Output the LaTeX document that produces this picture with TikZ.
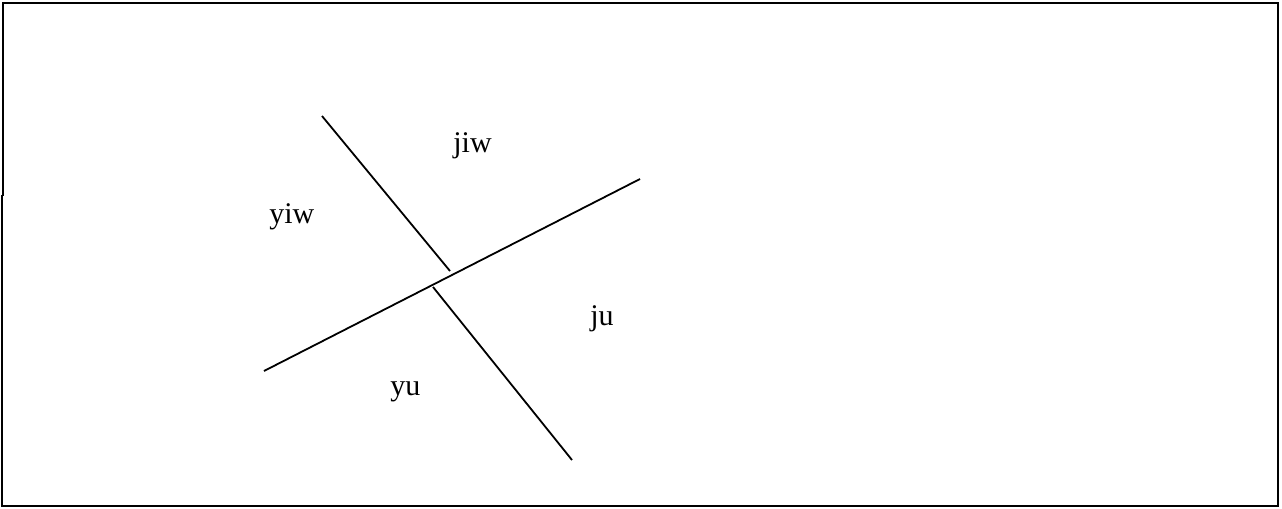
\documentclass[tikz,border=0pt]{standalone}
\usepackage{fontspec}
\setmainfont{Liberation Serif}

\begin{document}
\begin{tikzpicture}[
    x=0.5pt, y=-0.5pt,
    regiontext/.style={anchor=base west, inner sep=0pt, font=\fontsize{15}{18}\selectfont},
    axisline/.style={line width=0.9pt, black},
    framebox/.style={line width=1pt, black}
]
    \useasboundingbox (0,0) rectangle (1282,509);

    % --- KHUNG NGOAI ---
    \draw[framebox] (3,196) -- (3,3) -- (1278,3) -- (1278,506) -- (2,506) -- (2,196) -- (3,196);

    % --- CAC DIEM MUT ---
    \coordinate (tl) at (322,116);
    \coordinate (tm) at (450,271);
    \coordinate (bm) at (433,287);
    \coordinate (br) at (572,460);
    \coordinate (ll) at (264,371);
    \coordinate (lr) at (640,179);

    % --- HAI DUONG CAT NHAU ---
    \draw[axisline] (ll) -- (lr);
    \draw[axisline] (tl) -- (tm);
    \draw[axisline] (bm) -- (br);

    % --- NHAN CAC MIEN ---
    \node[regiontext] (jiw) at (453,152) {jiw};
    \node[regiontext] (yiw) at (269,223) {yiw};
    \node[regiontext] (ju)  at (590,325) {ju};
    \node[regiontext] (yu)  at (390,395) {yu};

\end{tikzpicture}
\end{document}
